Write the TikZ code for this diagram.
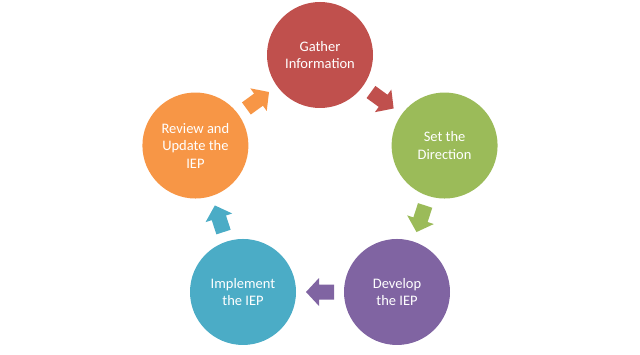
\documentclass[tikz,border=0pt]{standalone}
\usepackage{fontspec}
\setmainfont{Carlito}
\usetikzlibrary{calc}
\definecolor{cred}{HTML}{C0504D}
\definecolor{cgreen}{HTML}{9BBB59}
\definecolor{cpurple}{HTML}{8064A2}
\definecolor{ccyan}{HTML}{4BACC6}
\definecolor{corange}{HTML}{F79646}
\begin{document}
\begin{tikzpicture}[x=1pt,y=1pt,
  stage/.style={circle,minimum size=106pt,inner sep=0pt,fill=#1,text=white,
    align=center,font=\fontsize{14.5}{17.5}\selectfont},
  pics/cyclearrow/.style={code={
    \fill[#1] (-14,-7.5) -- (1,-7.5) -- (1,-14) -- (14,0) -- (1,14) -- (1,7.5) -- (-14,7.5) -- cycle;}}]
\useasboundingbox (0,0) rectangle (640,354);
\coordinate (c) at (320,168);
\node[stage=cred]    (gather)  at ($(c)+(90:131)$)   {Gather\\Information};
\node[stage=cgreen]  (direct)  at ($(c)+(18:131)$)   {Set the\\Direction};
\node[stage=cpurple] (develop) at ($(c)+(-54:131)$)  {Develop\\the IEP};
\node[stage=ccyan]   (implem)  at ($(c)+(-126:131)$) {Implement\\the IEP};
\node[stage=corange] (review)  at ($(c)+(162:131)$)  {Review and\\Update the\\IEP};
\coordinate (a1) at ($(c)+(54:106)$);
\coordinate (a2) at ($(c)+(-18:106)$);
\coordinate (a3) at ($(c)+(-90:106)$);
\coordinate (a4) at ($(c)+(-162:106)$);
\coordinate (a5) at ($(c)+(126:106)$);
\pic[rotate=-36]  at (a1) {cyclearrow=cred};
\pic[rotate=-108] at (a2) {cyclearrow=cgreen};
\pic[rotate=180]  at (a3) {cyclearrow=cpurple};
\pic[rotate=108]  at (a4) {cyclearrow=ccyan};
\pic[rotate=36]   at (a5) {cyclearrow=corange};
\end{tikzpicture}
\end{document}
